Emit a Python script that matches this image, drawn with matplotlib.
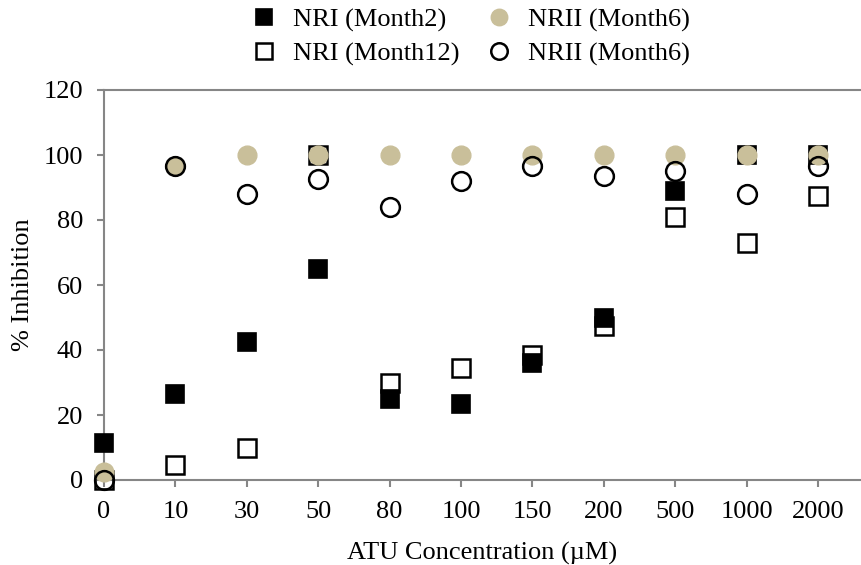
import matplotlib.pyplot as plt
import numpy as np

plt.rcParams["font.family"] = ["Liberation Serif", "DejaVu Serif"]

concentrations = ["0", "10", "30", "50", "80", "100", "150", "200", "500", "1000", "2000"]

nri_month2 = [11.5, 26.5, 42.5, 65.0, 25.0, 23.5, 36.0, 50.0, 89.0, 100.0, 100.0]
nri_month12 = [0.0, 4.5, 10.0, 100.0, 30.0, 34.5, 38.5, 47.5, 81.0, 73.0, 87.5]
nrii_month6_a = [2.5, 96.5, 100.0, 100.0, 100.0, 100.0, 100.0, 100.0, 100.0, 100.0, 100.0]
nrii_month6_b = [0.0, 96.5, 88.0, 92.5, 84.0, 92.0, 96.5, 93.5, 95.0, 88.0, 96.5]

TAN = "#c9bf9a"
AXIS = "#868686"
FS = 19

fig = plt.figure(figsize=(8.61, 5.65), dpi=100)
ax = fig.add_axes([104 / 861, 1 - 480 / 565, 757 / 861, 390 / 565])
x = np.arange(len(concentrations))

ax.plot(x, nri_month2, ls="none", marker="s", ms=13.5, mfc="black", mec="black", mew=1.2,
        label="NRI (Month2)", clip_on=False, zorder=3)
ax.plot(x, nri_month12, ls="none", marker="s", ms=13.5, mfc="none", mec="black", mew=1.8,
        label="NRI (Month12)", clip_on=False, zorder=4)
ax.plot(x, nrii_month6_a, ls="none", marker="o", ms=13.5, mfc=TAN, mec=TAN, mew=1.0,
        label="NRII (Month6)", clip_on=False, zorder=5)
ax.plot(x, nrii_month6_b, ls="none", marker="o", ms=13.5, mfc="none", mec="black", mew=1.8,
        label="NRII (Month6)", clip_on=False, zorder=6)

ax.set_xlim(0, 10.6)
ax.set_ylim(0, 120)
ax.set_xticks(x)
ax.set_xticklabels(concentrations)
ax.set_yticks(np.arange(0, 121, 20))

for side in ("left", "bottom", "top"):
    ax.spines[side].set_color(AXIS)
    ax.spines[side].set_linewidth(1.5)
ax.spines["right"].set_visible(False)
ax.tick_params(axis="both", colors=AXIS, labelcolor="black", labelsize=FS,
               direction="out", length=5, width=1.5, pad=10)

ax.set_xlabel("ATU Concentration (\u00b5M)", fontsize=FS, labelpad=14)
ax.set_ylabel("% Inhibition", fontsize=FS, labelpad=7)

handles, labels = ax.get_legend_handles_labels()
fig.legend(handles, labels, ncol=2, loc="center", bbox_to_anchor=(470 / 861, 1 - 37 / 565),
           frameon=False, fontsize=FS, markerscale=0.88, handlelength=1.0,
           handletextpad=0.6, columnspacing=1.0, labelspacing=0.38, borderpad=0.2)

fig.savefig("out.png", dpi=100, facecolor="white")
